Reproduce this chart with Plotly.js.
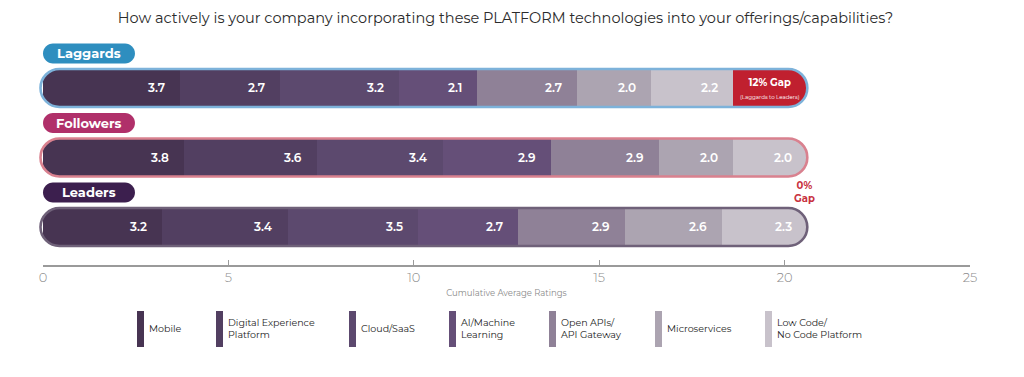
<!DOCTYPE html>
<html><head><meta charset="utf-8">
<script src="https://cdn.plot.ly/plotly-3.0.1.min.js"></script>
<style>html,body{margin:0;padding:0;background:#fff}</style>
</head><body><div id="chart" style="width:1024px;height:377px"></div>
<script>
// ---------------- data ----------------
const chartTitle = 'How actively is your company incorporating these PLATFORM technologies into your offerings/capabilities?';
const groups = ['Laggards', 'Followers', 'Leaders'];
const technologies = ['Mobile', 'Digital Experience Platform', 'Cloud/SaaS', 'AI/Machine Learning', 'Open APIs/API Gateway', 'Microservices', 'Low Code/No Code Platform'];
const legendLabels = ['Mobile', 'Digital Experience<br>Platform', 'Cloud/SaaS', 'AI/Machine<br>Learning', 'Open APIs/<br>API Gateway', 'Microservices', 'Low Code/<br>No Code Platform'];
const laggards = [3.7, 2.7, 3.2, 2.1, 2.7, 2.0, 2.2];
const followers = [3.8, 3.6, 3.4, 2.9, 2.9, 2.0, 2.0];
const leaders = [3.2, 3.4, 3.5, 2.7, 2.9, 2.6, 2.3];
const gapLabels = ['12% Gap', '0%<br>Gap'];
const gapNote = '(Laggards to Leaders)';
const xTickVals = [0, 5, 10, 15, 20, 25];
const xAxisTitle = 'Cumulative Average Ratings';

// ---------------- styles / layout ----------------
const F = "'Montserrat', 'Open Sans', 'Lato', sans-serif";
const techColors = ['#473452', '#523f61', '#5c496e', '#654f78', '#8f8197', '#aca4b1', '#c8c2cb'];
const gapColor = '#c0202f';
const pillColors = ['#2e8ebf', '#b0306a', '#3c1f4e'];
const outlineColors = ['#7db2da', '#d9818f', '#6f6179'];
const W = 1024, H = 377, ml = 43, mr = 54, mt = 40, mb = 112;
const plotW = W - ml - mr, plotH = H - mt - mb;
const xMin = 0, xMax = 25;
const yMin = -0.547, yMax = 2.69;
const yPos = [2, 1, 0];
const barWidth = 0.52;

const series = [laggards, followers, leaders];
const sum = a => a.reduce((p, c) => p + c, 0);
const totals = series.map(sum);
const gapValue = Math.round((totals[2] - totals[0]) * 10) / 10;
const endTotals = [totals[0] + gapValue, totals[1], totals[2]];

// data x (+ pixel offset) -> paper x
const xp = (x, px) => (x - xMin) / (xMax - xMin) + (px || 0) / plotW;
const ypPx = px => (H - mb - px) / plotH;  // absolute pixel y -> paper y
const xpPx = px => (px - ml) / plotW;       // absolute pixel x -> paper x
const f = v => v.toFixed(4);

// ---------------- traces ----------------
const traces = technologies.map((t, j) => ({
  type: 'bar', orientation: 'h', name: t,
  y: yPos, x: series.map(s => s[j]),
  width: barWidth,
  marker: {color: techColors[j], line: {width: 0}},
  hoverinfo: 'skip', showlegend: false
}));
traces.push({
  type: 'bar', orientation: 'h', name: 'Gap',
  y: [yPos[0]], x: [gapValue], width: barWidth,
  marker: {color: gapColor, line: {width: 0}},
  hoverinfo: 'skip', showlegend: false
});

// ---------------- shapes ----------------
const shapes = [];
const annotations = [];
const k = 0.5523;
const r = 19;          // capsule radius (px)
const hm = 23;         // mask half height (px)
const rX = r / plotW;  // radius in paper x units

groups.forEach((g, i) => {
  const xL = xp(0, -2.5 + r);
  const xR = xp(endTotals[i], 0.5 - r);
  const arcL = `C ${f(xL - k * rX)},${-r} ${f(xL - rX)},${f(-k * r)} ${f(xL - rX)},0 C ${f(xL - rX)},${f(k * r)} ${f(xL - k * rX)},${r} ${f(xL)},${r}`;
  const arcR = `C ${f(xR + k * rX)},${r} ${f(xR + rX)},${f(k * r)} ${f(xR + rX)},0 C ${f(xR + rX)},${f(-k * r)} ${f(xR + k * rX)},${-r} ${f(xR)},${-r}`;
  const common = {xref: 'paper', yref: 'y', ysizemode: 'pixel', yanchor: yPos[i], layer: 'above'};
  // masks for rounded ends
  shapes.push(Object.assign({}, common, {
    type: 'path',
    path: `M ${f(xL)},${hm} L ${f(xL - rX - 6 / plotW)},${hm} L ${f(xL - rX - 6 / plotW)},${-hm} L ${f(xL)},${-hm} L ${f(xL)},${-r} ${arcL} Z`,
    fillcolor: '#ffffff', line: {width: 0}
  }));
  shapes.push(Object.assign({}, common, {
    type: 'path',
    path: `M ${f(xR)},${-hm} L ${f(xR + rX + 6 / plotW)},${-hm} L ${f(xR + rX + 6 / plotW)},${hm} L ${f(xR)},${hm} L ${f(xR)},${r} ${arcR} Z`,
    fillcolor: '#ffffff', line: {width: 0}
  }));
  // capsule outline
  shapes.push(Object.assign({}, common, {
    type: 'path',
    path: `M ${f(xL)},${r} L ${f(xR)},${r} ${arcR} L ${f(xL)},${-r} ${arcL} Z`,
    fillcolor: 'rgba(0,0,0,0)', line: {color: outlineColors[i], width: 2.6}
  }));
  // group pill
  const pL = xp(0, 0), pR = xp(0, 92), pr = 10, prX = pr / plotW, cy = 34.5;
  shapes.push(Object.assign({}, common, {
    type: 'path',
    path: `M ${f(pL + prX)},${cy + pr} L ${f(pR - prX)},${cy + pr} C ${f(pR - prX + k * prX)},${cy + pr} ${f(pR)},${f(cy + k * pr)} ${f(pR)},${cy} C ${f(pR)},${f(cy - k * pr)} ${f(pR - prX + k * prX)},${cy - pr} ${f(pR - prX)},${cy - pr} L ${f(pL + prX)},${cy - pr} C ${f(pL + prX - k * prX)},${cy - pr} ${f(pL)},${f(cy - k * pr)} ${f(pL)},${cy} C ${f(pL)},${f(cy + k * pr)} ${f(pL + prX - k * prX)},${cy + pr} ${f(pL + prX)},${cy + pr} Z`,
    fillcolor: pillColors[i], line: {width: 0}
  }));
  annotations.push({
    xref: 'paper', yref: 'y', x: xp(0, 46), y: yPos[i], yshift: cy,
    text: '<b>' + g + '</b>', showarrow: false, xanchor: 'center', yanchor: 'middle',
    font: {family: F, size: 13, color: '#ffffff'}
  });
  // value labels
  let cum = 0;
  series[i].forEach(v => {
    cum += v;
    annotations.push({
      xref: 'x', yref: 'y', x: cum, y: yPos[i], xshift: -13,
      text: v.toFixed(1), showarrow: false, xanchor: 'right', yanchor: 'middle',
      font: {family: F, size: 12, color: '#ffffff', weight: 600}
    });
  });
});

// gap labels
annotations.push({
  xref: 'x', yref: 'y', x: totals[0] + gapValue / 2, y: yPos[0], yshift: 0,
  text: '<b>' + gapLabels[0] + '</b><br><span style="font-size:5.5px">' + gapNote + '</span>',
  showarrow: false, xanchor: 'center', yanchor: 'middle',
  font: {family: F, size: 10, color: '#ffffff'}
});
annotations.push({
  xref: 'x', yref: 'y', x: totals[2], xshift: -2, y: (yPos[1] + yPos[2]) / 2,
  text: '<b>' + gapLabels[1] + '</b>', showarrow: false, xanchor: 'center', yanchor: 'middle',
  font: {family: F, size: 10, color: '#c8323f'}
});

// legend
const legendSwatchPx = [137, 216, 349, 449, 549, 655, 765];
technologies.forEach((t, j) => {
  shapes.push({
    type: 'rect', xref: 'paper', yref: 'paper',
    x0: xpPx(legendSwatchPx[j]), x1: xpPx(legendSwatchPx[j] + 7),
    y0: ypPx(347), y1: ypPx(311),
    fillcolor: techColors[j], line: {width: 0}
  });
  annotations.push({
    xref: 'paper', yref: 'paper', x: xpPx(legendSwatchPx[j] + 10), y: ypPx(328.5),
    text: legendLabels[j], showarrow: false, xanchor: 'left', yanchor: 'middle', align: 'left',
    font: {family: F, size: 9.5, color: '#1e1e1e'}
  });
});

const layout = {
  width: W, height: H,
  margin: {l: ml, r: mr, t: mt, b: mb},
  paper_bgcolor: '#ffffff', plot_bgcolor: '#ffffff',
  font: {family: F},
  title: {text: chartTitle, x: 505.5 / W, xanchor: 'center', y: 1 - 18 / H, yanchor: 'middle',
          font: {family: F, size: 14.5, color: '#2b2b2b'}},
  barmode: 'stack',
  showlegend: false,
  xaxis: {
    range: [xMin, xMax], tickvals: xTickVals, ticktext: xTickVals.map(String),
    ticks: 'inside', ticklen: 5, tickwidth: 1, tickcolor: '#9a9a9a',
    showline: true, linecolor: '#9a9a9a', linewidth: 1.5,
    showgrid: false, zeroline: false, fixedrange: true,
    tickfont: {family: F, size: 13, color: '#8c8c8c', weight: 300},
    title: {text: xAxisTitle, standoff: 6, font: {family: F, size: 8.5, color: '#8a8a8a'}},
    automargin: false
  },
  yaxis: {range: [yMin, yMax], showticklabels: false, showgrid: false, zeroline: false,
          showline: false, ticks: '', fixedrange: true},
  shapes: shapes,
  annotations: annotations
};

Plotly.newPlot('chart', traces, layout, {displayModeBar: false, staticPlot: true});
</script>
</body></html>
